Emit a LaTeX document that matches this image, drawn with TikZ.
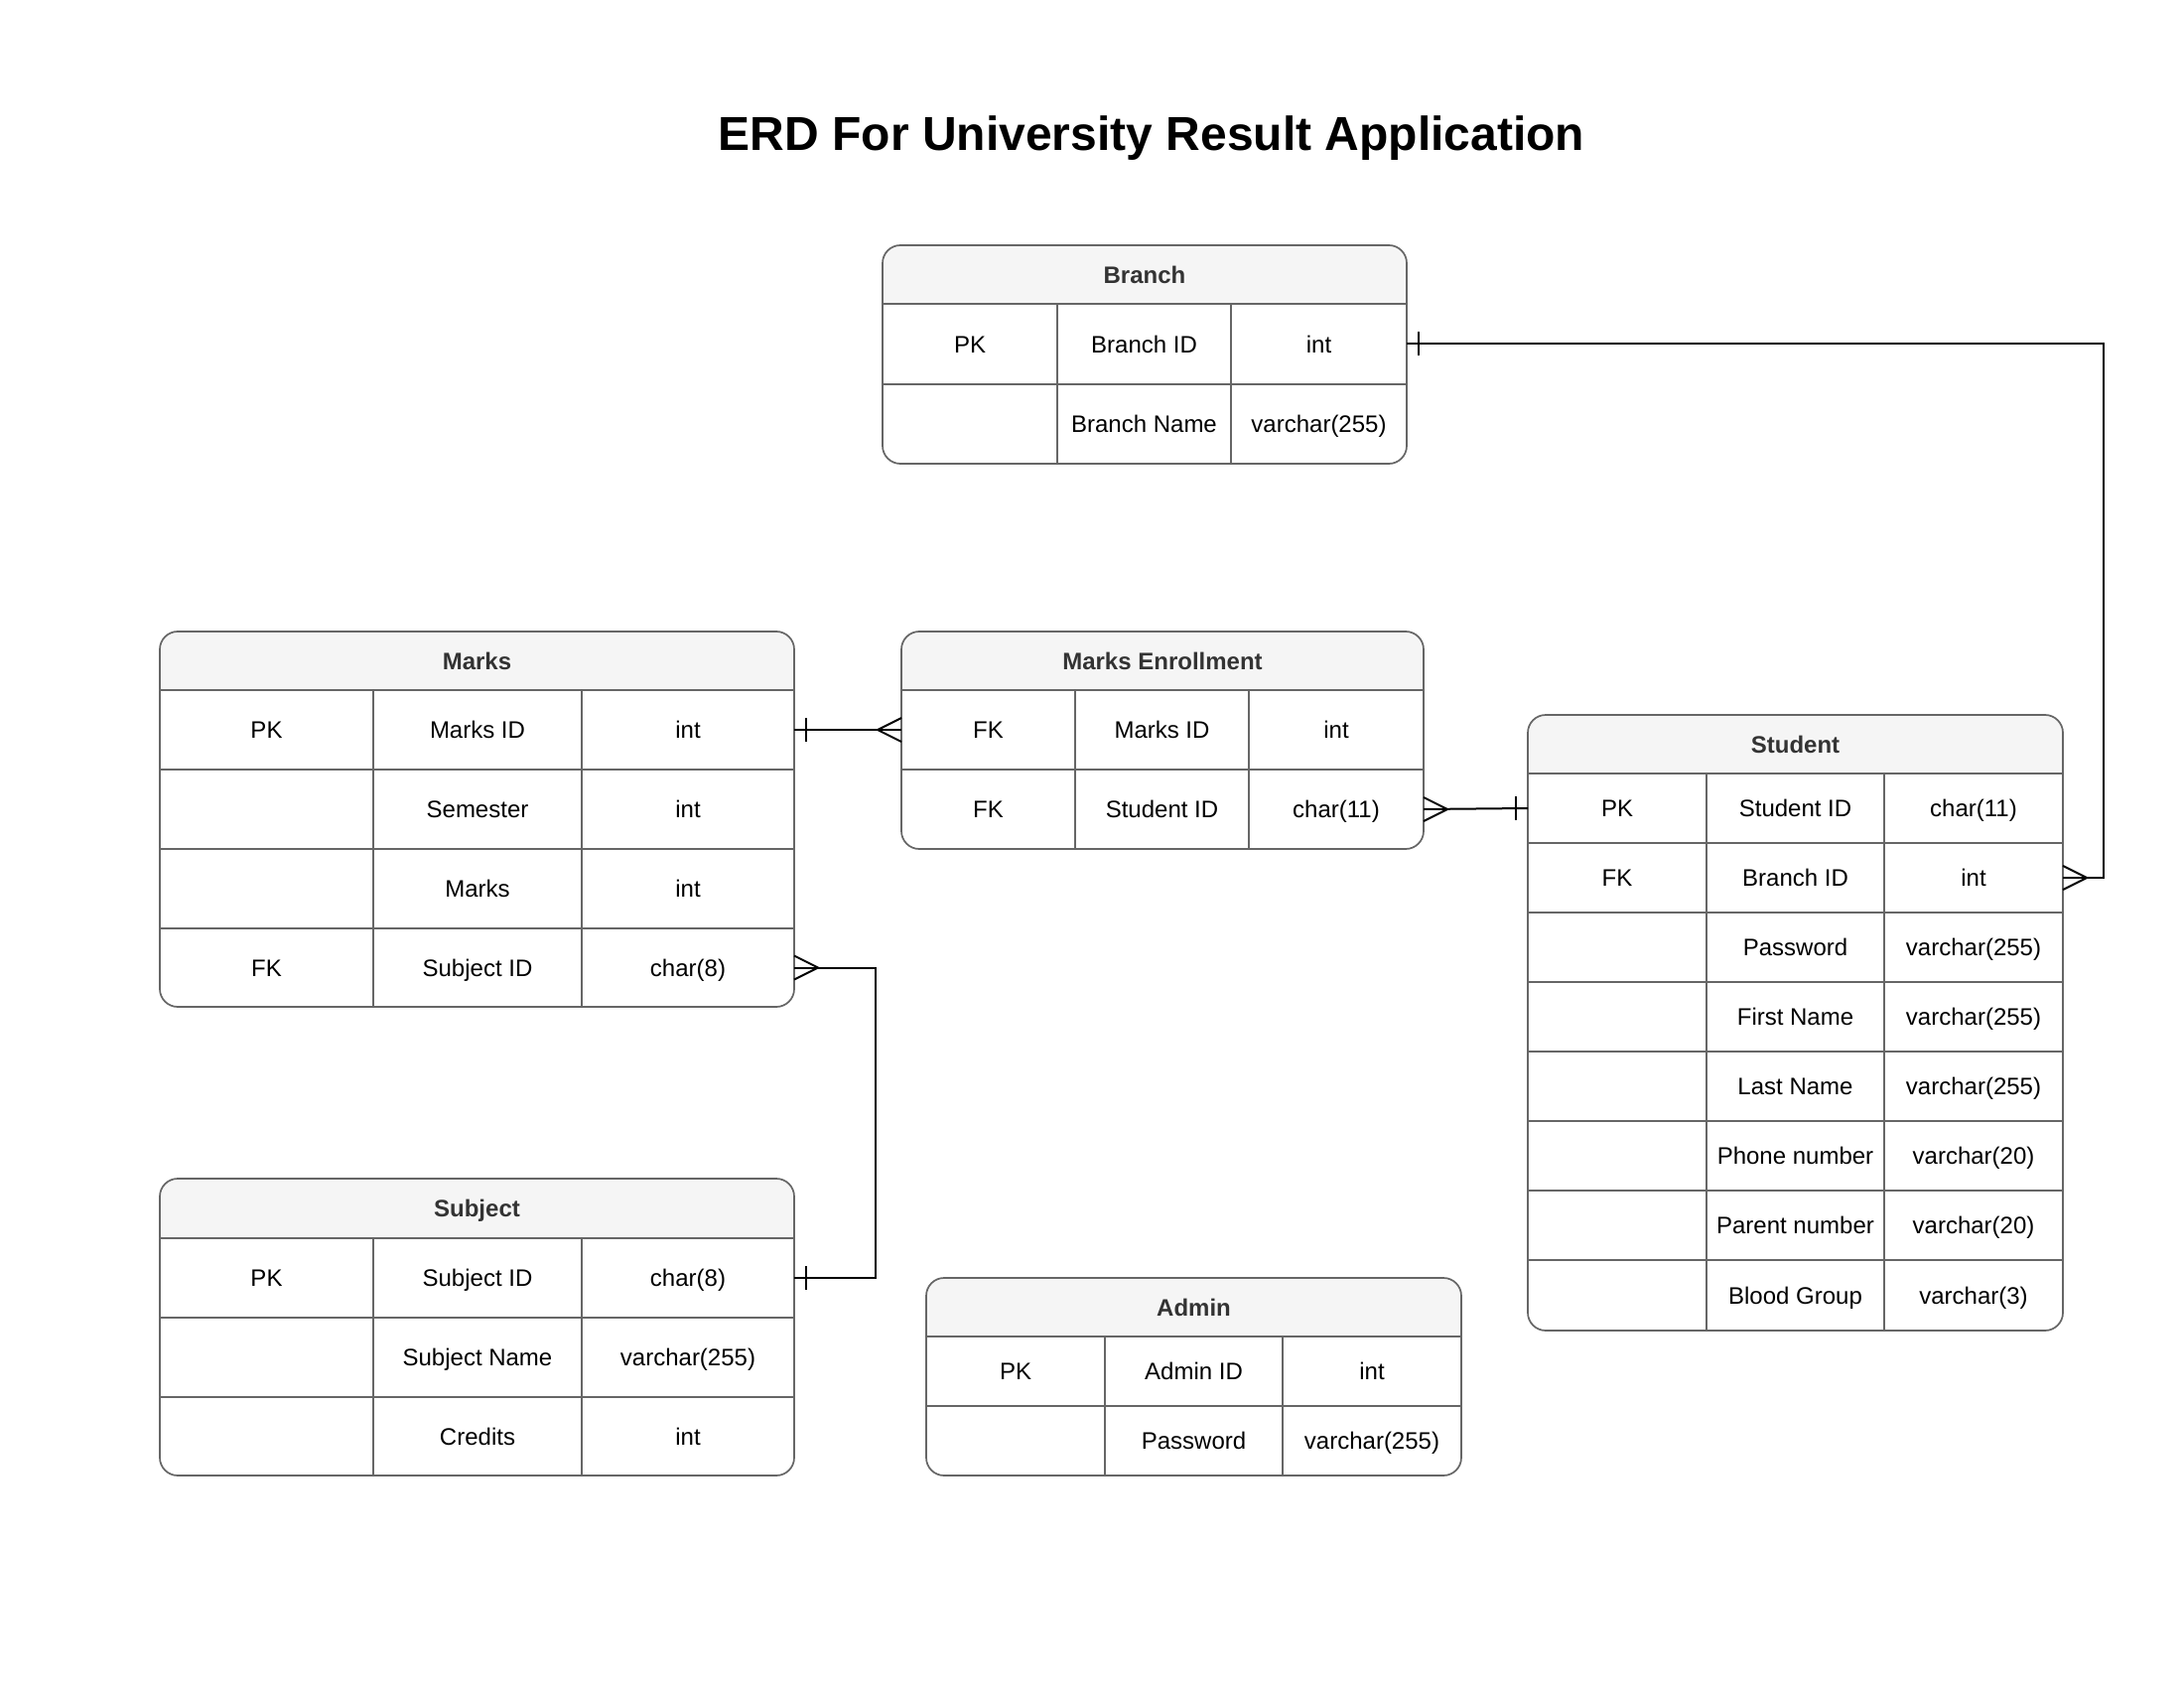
\documentclass[tikz,border=0pt]{standalone}
\usepackage{fontspec}
\setmainfont{Liberation Sans}
\usetikzlibrary{calc,fit}
\definecolor{bord}{HTML}{666666}
\definecolor{headfill}{HTML}{F5F5F5}
\definecolor{headtext}{HTML}{333333}
\tikzset{
  tframe/.style={draw=bord, line width=0.85pt, rounded corners=9pt},
  cellline/.style={draw=bord, line width=0.85pt},
  celltext/.style={font=\fontsize{12}{14}\selectfont, text=black, inner sep=0pt, text height=8.6pt, text depth=0pt},
  headtxt/.style={font=\fontsize{12}{14}\selectfont\bfseries, text=headtext, inner sep=0pt, text height=8.6pt, text depth=0pt},
  rowbox/.style={inner sep=0pt, outer sep=0pt},
  rel/.style={draw=black, line width=1pt},
  titletxt/.style={font=\fontsize{24}{28}\selectfont\bfseries, text=black, inner sep=0pt, text height=17.2pt, text depth=0pt},
}
% name, x0, y0, x3, y3, yh, title
\newcommand{\erdframe}[7]{%
  \begin{scope}
    \clip[rounded corners=9pt] (#2,#3) rectangle (#4,#5);
    \fill[headfill] (#2,#3) rectangle (#4,#6);
  \end{scope}
  \draw[tframe] (#2,#3) rectangle (#4,#5);
  \node[headtxt] (#1-title) at ({(#2+#4)/2},{(#3+#6)/2}) {#7};
}
% name, ytop, ybot, key, field, type  (columns from \cA..\cD)
\newcommand{\erdrow}[6]{%
  \draw[cellline] (\cA,#2) -- (\cD,#2);
  \draw[cellline] (\cB,#2) -- (\cB,#3) (\cC,#2) -- (\cC,#3);
  \node[rowbox, fit={(\cA,#2)(\cD,#3)}] (#1) {};
  \node[celltext] (#1-k) at ({(\cA+\cB)/2},{(#2+#3)/2}) {#4};
  \node[celltext] (#1-f) at ({(\cB+\cC)/2},{(#2+#3)/2}) {#5};
  \node[celltext] (#1-t) at ({(\cC+\cD)/2},{(#2+#3)/2}) {#6};
}
\begin{document}
\begin{tikzpicture}[x=0.5pt,y=-0.5pt]
\useasboundingbox (0,0) rectangle (2200,1700);
\fill[white] (0,0) rectangle (2200,1700);

\node[titletxt] (title) at (1160,134) {ERD For University Result Application};

% Branch
\def\cA{889}\def\cB{1065}\def\cC{1240}\def\cD{1417}
\erdframe{b}{889}{247}{1417}{467}{306}{Branch}
\erdrow{b-bid}{306}{387}{PK}{Branch ID}{int}
\erdrow{b-bname}{387}{467}{}{Branch Name}{varchar(255)}

% Marks
\def\cA{161}\def\cB{376}\def\cC{586}\def\cD{800}
\erdframe{m}{161}{636}{800}{1014}{695}{Marks}
\erdrow{m-mid}{695}{775}{PK}{Marks ID}{int}
\erdrow{m-sem}{775}{855}{}{Semester}{int}
\erdrow{m-marks}{855}{935}{}{Marks}{int}
\erdrow{m-subid}{935}{1014}{FK}{Subject ID}{char(8)}

% Marks Enrollment
\def\cA{908}\def\cB{1083}\def\cC{1258}\def\cD{1434}
\erdframe{me}{908}{636}{1434}{855}{695}{Marks Enrollment}
\erdrow{me-mid}{695}{775}{FK}{Marks ID}{int}
\erdrow{me-sid}{775}{855}{FK}{Student ID}{char(11)}

% Student
\def\cA{1539}\def\cB{1719}\def\cC{1898}\def\cD{2078}
\erdframe{s}{1539}{720}{2078}{1340}{779}{Student}
\erdrow{s-sid}{779}{849}{PK}{Student ID}{char(11)}
\erdrow{s-bid}{849}{919}{FK}{Branch ID}{int}
\erdrow{s-pw}{919}{989}{}{Password}{varchar(255)}
\erdrow{s-fn}{989}{1059}{}{First Name}{varchar(255)}
\erdrow{s-ln}{1059}{1129}{}{Last Name}{varchar(255)}
\erdrow{s-ph}{1129}{1199}{}{Phone number}{varchar(20)}
\erdrow{s-pa}{1199}{1269}{}{Parent number}{varchar(20)}
\erdrow{s-bg}{1269}{1340}{}{Blood Group}{varchar(3)}

% Subject
\def\cA{161}\def\cB{376}\def\cC{586}\def\cD{800}
\erdframe{sub}{161}{1187}{800}{1486}{1247}{Subject}
\erdrow{sub-sid}{1247}{1327}{PK}{Subject ID}{char(8)}
\erdrow{sub-name}{1327}{1407}{}{Subject Name}{varchar(255)}
\erdrow{sub-cr}{1407}{1486}{}{Credits}{int}

% Admin
\def\cA{933}\def\cB{1113}\def\cC{1292}\def\cD{1472}
\erdframe{a}{933}{1287}{1472}{1486}{1346}{Admin}
\erdrow{a-aid}{1346}{1416}{PK}{Admin ID}{int}
\erdrow{a-pw}{1416}{1486}{}{Password}{varchar(255)}

% Branch -> Student
\draw[rel] (b-bid.east) -- ++(702,0) |- (s-bid.east);
\draw[rel] ($(b-bid.east)+(12,-12)$) -- ($(b-bid.east)+(12,12)$);
\draw[rel] ($(s-bid.east)+(0,-12)$) -- ($(s-bid.east)+(24,0)$) -- ($(s-bid.east)+(0,12)$);

% Marks -> Marks Enrollment
\draw[rel] (m-mid.east) -- (me-mid.west);
\draw[rel] ($(m-mid.east)+(12,-12)$) -- ($(m-mid.east)+(12,12)$);
\draw[rel] ($(me-mid.west)+(0,-12)$) -- ($(me-mid.west)+(-24,0)$) -- ($(me-mid.west)+(0,12)$);

% Marks Enrollment -> Student
\draw[rel] (me-sid.east) -- (s-sid.west);
\draw[rel] ($(me-sid.east)+(0,-12)$) -- ($(me-sid.east)+(24,0)$) -- ($(me-sid.east)+(0,12)$);
\draw[rel] ($(s-sid.west)+(-12,-12)$) -- ($(s-sid.west)+(-12,12)$);

% Marks -> Subject
\draw[rel] (m-subid.east) -- ++(82,0) |- (sub-sid.east);
\draw[rel] ($(m-subid.east)+(0,-12)$) -- ($(m-subid.east)+(24,0)$) -- ($(m-subid.east)+(0,12)$);
\draw[rel] ($(sub-sid.east)+(12,-12)$) -- ($(sub-sid.east)+(12,12)$);
\end{tikzpicture}
\end{document}
